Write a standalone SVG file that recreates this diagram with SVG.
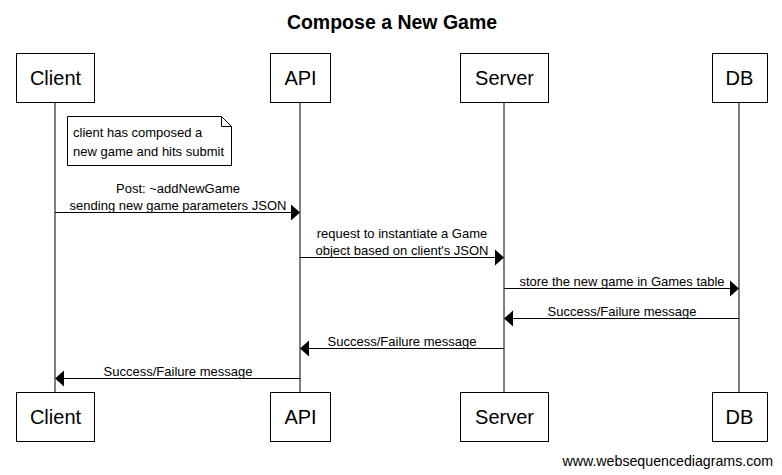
<svg xmlns="http://www.w3.org/2000/svg" width="782" height="475" viewBox="0 0 782 475">
<style>
text{font-family:"Liberation Sans",Arial,sans-serif;fill:#000}
.box{fill:#fff;stroke:#000;stroke-width:1}
.life{stroke:#000;stroke-width:1}
.pt{font-size:20px;text-anchor:middle}
.msg{font-size:13px;text-anchor:middle}
.ln{stroke:#000;stroke-width:1;fill:none}
.ah{fill:#000}
</style>
<rect width="782" height="475" fill="#fff"/>
<text x="392" y="29" font-size="19.5" font-weight="bold" text-anchor="middle">Compose a New Game</text>
<g id="lifelines">
<line class="life" x1="55" y1="102" x2="55" y2="392"/>
<line class="life" x1="300" y1="102" x2="300" y2="392"/>
<line class="life" x1="504" y1="102" x2="504" y2="392"/>
<line class="life" x1="739" y1="102" x2="739" y2="392"/>
</g>
<g id="client"><rect class="box" x="16.5" y="53.5" width="78" height="49"/><text class="pt" x="55.5" y="85">Client</text></g>
<g id="api"><rect class="box" x="270.5" y="53.5" width="60" height="49"/><text class="pt" x="300.5" y="85">API</text></g>
<g id="server"><rect class="box" x="460.5" y="53.5" width="88" height="49"/><text class="pt" x="504.5" y="85">Server</text></g>
<g id="db"><rect class="box" x="712.5" y="53.5" width="55" height="49"/><text class="pt" x="739.5" y="85">DB</text></g>
<g id="client-bottom"><rect class="box" x="16.5" y="392.5" width="78" height="49"/><text class="pt" x="55.5" y="424">Client</text></g>
<g id="api-bottom"><rect class="box" x="270.5" y="392.5" width="60" height="49"/><text class="pt" x="300.5" y="424">API</text></g>
<g id="server-bottom"><rect class="box" x="460.5" y="392.5" width="88" height="49"/><text class="pt" x="504.5" y="424">Server</text></g>
<g id="db-bottom"><rect class="box" x="712.5" y="392.5" width="55" height="49"/><text class="pt" x="739.5" y="424">DB</text></g>
<g id="note">
<path d="M67.5 116.5 H221.5 L231.5 126.5 V165.5 H67.5 Z" fill="#fff" stroke="#000"/>
<path d="M221.5 116.5 V126.5 H231.5" fill="none" stroke="#000"/>
<text x="73" y="137" font-size="13">client has composed a</text>
<text x="73" y="156" font-size="13">new game and hits submit</text>
</g>
<g id="connectors">
<line class="ln" x1="55" y1="212.5" x2="291" y2="212.5"/>
<path class="ah" d="M300 212.5 L291 204.5 L291 220.5 Z"/>
<text class="msg" x="178" y="193">Post: ~addNewGame</text>
<text class="msg" x="178" y="210">sending new game parameters JSON</text>

<line class="ln" x1="300" y1="257.5" x2="495" y2="257.5"/>
<path class="ah" d="M504 257.5 L495 249.5 L495 265.5 Z"/>
<text class="msg" x="402" y="238">request to instantiate a Game</text>
<text class="msg" x="402" y="255">object based on client's JSON</text>

<line class="ln" x1="504" y1="288.5" x2="730" y2="288.5"/>
<path class="ah" d="M739 288.5 L730 280.5 L730 296.5 Z"/>
<text class="msg" x="622" y="286">store the new game in Games table</text>

<line class="ln" x1="739" y1="318.5" x2="513" y2="318.5"/>
<path class="ah" d="M504 318.5 L513 310.5 L513 326.5 Z"/>
<text class="msg" x="622" y="316">Success/Failure message</text>

<line class="ln" x1="504" y1="348.5" x2="309" y2="348.5"/>
<path class="ah" d="M300 348.5 L309 340.5 L309 356.5 Z"/>
<text class="msg" x="402" y="346">Success/Failure message</text>

<line class="ln" x1="300" y1="378.5" x2="64" y2="378.5"/>
<path class="ah" d="M55 378.5 L64 370.5 L64 386.5 Z"/>
<text class="msg" x="178" y="376">Success/Failure message</text>
</g>
<text x="773" y="466" font-size="14.2" text-anchor="end">www.websequencediagrams.com</text>
</svg>
